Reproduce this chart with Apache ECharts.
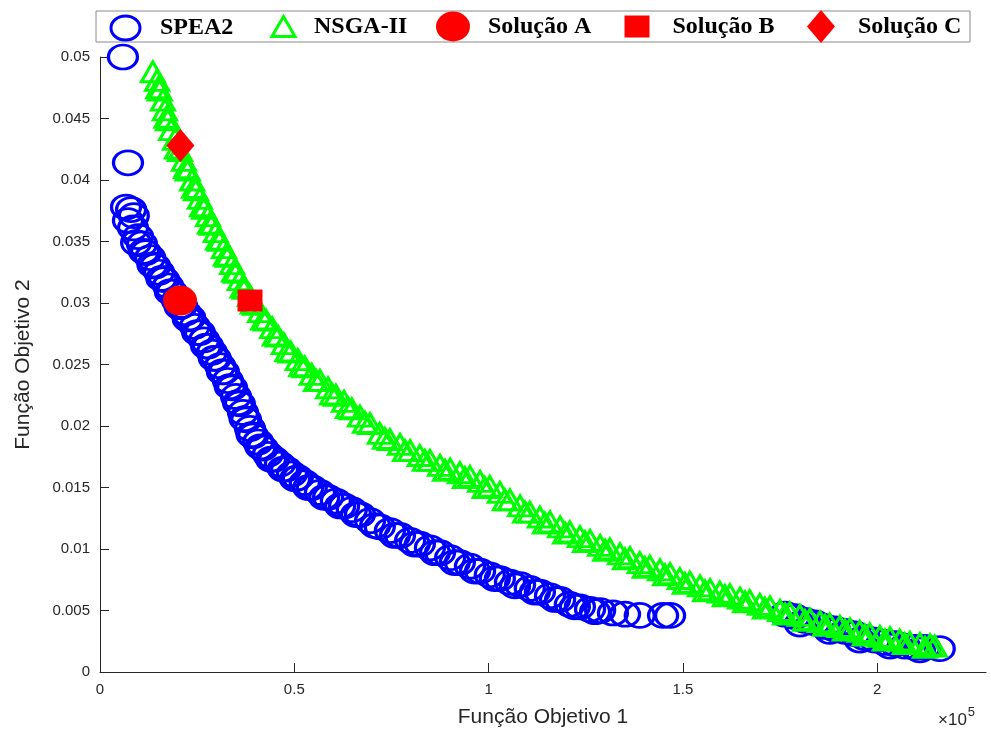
<!DOCTYPE html>
<html>
<head>
<meta charset="utf-8">
<script src="https://cdn.jsdelivr.net/npm/echarts@6/dist/echarts.min.js"></script>
<style>html,body{margin:0;padding:0;background:#fff}#c{width:991px;height:729px}</style>
</head>
<body>
<div id="c"></div>
<script>
// ---- data (x in raw units, displayed as x10^5) ----
var xTicks = [0, 50000, 100000, 150000, 200000];
var spea2 = [
[5900,0.0500],[7200,0.0414],[6700,0.0378],[8000,0.0376],[7200,0.0367],[8700,0.0371],[8500,0.0361],
[9800,0.0354],[10800,0.0348],[11800,0.0341],[12900,0.0337],[14200,0.0330],[15200,0.0325],[16500,0.0319],
[17500,0.0314],[18500,0.0309],[19800,0.0302],[21100,0.0298],[22100,0.0292],[23200,0.0288],[24400,0.0281],
[25700,0.0276],[26800,0.0270],[27800,0.0265],[28800,0.0260],[29800,0.0255],[30900,0.0249],[31900,0.0244],
[32900,0.0237],[34000,0.0231],[35000,0.0224],[36000,0.0218],[36800,0.0211],[37600,0.0205],[38600,0.0198],
[39400,0.0192],[40700,0.0187],[41900,0.0182],[43200,0.0177],[44800,0.0173],[46300,0.0169],[47900,0.0165],
[49400,0.0161],[50900,0.0158],[52700,0.0154],[54500,0.0150],[56600,0.0146],[58700,0.0142],[60700,0.0139],
[62800,0.0135],[64800,0.0132],[66900,0.0128],[69500,0.0123],[72000,0.0118],[74600,0.0115],[77200,0.0111],
[79800,0.0107],[82300,0.0104],[84900,0.0101],[87500,0.0097],[90100,0.0093],[92600,0.0089],[95200,0.0086],
[97800,0.0082],[100300,0.0079],[102900,0.0076],[105500,0.0073],[108100,0.0071],[110600,0.0068],[113200,0.0065],
[115800,0.0062],[118400,0.0059],[120900,0.0055],[123500,0.0053],[126100,0.0051],[128700,0.0050],[132000,0.0048],
[135100,0.0047],[138900,0.0046],[144900,0.0046],[146700,0.0046],
[9300,0.0349],[11300,0.0342],[13500,0.0331],[15800,0.0320],[18000,0.0309],[20500,0.0297],[22600,0.0287],
[25000,0.0276],[27300,0.0265],[29300,0.0255],[31400,0.0244],[33400,0.0232],[35500,0.0219],[37200,0.0206],
[39000,0.0193],[41300,0.0183],[44000,0.0173],[47100,0.0165],[50200,0.0157],[53600,0.0150],[57700,0.0142],
[61800,0.0135],[65900,0.0128],[70800,0.0119],[75900,0.0111],[81000,0.0104],[86200,0.0097],[91300,0.0089],
[96500,0.0082],[101600,0.0076],[106800,0.0070],[111900,0.0065],[117100,0.0059],[122200,0.0053],[127400,0.0049],
[176300,0.0047],[178800,0.0045],[180100,0.0039],[181400,0.0042],[184000,0.0040],[186500,0.0037],[187800,0.0033],
[189100,0.0035],[191700,0.0033],[194300,0.0031],[195500,0.0026],[196800,0.0028],[199400,0.0026],[202000,0.0024],
[203300,0.0021],[204600,0.0023],[207100,0.0021],[209700,0.0020],[211000,0.0018],[212300,0.0020],[216100,0.0019]
];
var nsga2 = [
[13600,0.0488],[14700,0.0481],[15400,0.0473],[16200,0.0465],[16700,0.0457],[17500,0.0449],[18300,0.0441],
[19300,0.0433],[20600,0.0424],[21600,0.0416],[22600,0.0408],[23700,0.0400],[24700,0.0392],[25700,0.0385],
[26800,0.0377],[27800,0.0371],[28800,0.0364],[29800,0.0358],[30900,0.0351],[31900,0.0345],[32900,0.0338],
[34000,0.0332],[35000,0.0325],[36000,0.0319],[37300,0.0312],[38600,0.0306],[39900,0.0299],[41200,0.0293],
[42700,0.0286],[44300,0.0280],[45800,0.0273],[47300,0.0267],[49100,0.0260],[50900,0.0254],[52700,0.0248],
[54500,0.0242],[56600,0.0237],[58700,0.0231],[60700,0.0225],[62800,0.0220],[64800,0.0214],[66900,0.0208],
[69500,0.0202],[72000,0.0194],[74600,0.0189],[77200,0.0185],[79800,0.0180],[82300,0.0176],[84900,0.0172],
[87500,0.0168],[90100,0.0165],[92600,0.0162],[95200,0.0159],[97800,0.0155],[100300,0.0151],[102900,0.0146],
[105500,0.0140],[108100,0.0135],[110600,0.0130],[113200,0.0126],[115800,0.0122],[118400,0.0118],[120900,0.0114],
[123500,0.0110],[126100,0.0107],[128700,0.0103],[131200,0.0100],[133800,0.0096],[136400,0.0093],[138900,0.0089],
[141500,0.0086],[144100,0.0083],[146700,0.0080],[149200,0.0076],[151800,0.0073],[154400,0.0070],[157000,0.0067],
[159500,0.0065],[162100,0.0063],[164700,0.0060],[167200,0.0058],[169800,0.0055],[172400,0.0053],[175000,0.0050],
[177500,0.0048],[180100,0.0046],[182700,0.0043],[185300,0.0041],[187800,0.0039],[190400,0.0037],[193000,0.0035],
[195500,0.0033],[198100,0.0031],[200700,0.0029],[203300,0.0028],[205800,0.0026],[208400,0.0024],[211000,0.0023],
[213600,0.0022],[214800,0.0021],
[15000,0.0475],[17100,0.0451],[19800,0.0426],[22100,0.0410],[24200,0.0394],[26300,0.0379],[28300,0.0365],
[30400,0.0352],[32400,0.0339],[34500,0.0326],[36700,0.0313],[39300,0.0300],[42000,0.0287],[45000,0.0274],
[48200,0.0261],[51800,0.0249],[55600,0.0237],[59700,0.0226],[63800,0.0215],[68200,0.0203],[73300,0.0190],
[78500,0.0180],[83600,0.0172],[88800,0.0164],[93900,0.0158],[99000,0.0150],[104200,0.0140],[109400,0.0130],
[114500,0.0121],[119700,0.0113],[124800,0.0106],[130000,0.0099],[135100,0.0092],[140200,0.0085],[145400,0.0079],
[150500,0.0072],[155700,0.0066],[160800,0.0062],[166000,0.0057],[171100,0.0052],[176300,0.0047],[181400,0.0042],
[186600,0.0038],[191700,0.0034],[196800,0.0030],[202000,0.0026],[207100,0.0023],[212300,0.0020]
];
var solA = [[20600,0.0302]];
var solB = [[38600,0.0302]];
var solC = [[20700,0.0428]];

var names = ['SPEA2','NSGA-II','Solução A','Solução B','Solução C'];

var chart = echarts.init(document.getElementById('c'), null, {renderer:'canvas'});
var axisColor = '#262626';
var legendFont = {fontFamily:'Liberation Serif', fontWeight:'bold', fontSize:24, color:'#000'};
var ellipseIcon = 'path://M2,1A1,1,0,1,1,0,1A1,1,0,1,1,2,1Z';

function mkLegend(name, icon, left, w, h, pad, style){
  return {
    data:[{name:name, icon:icon}],
    left:left, top: 26.5 - Math.max(h, 24)/2, orient:'horizontal',
    padding:0, itemWidth:w, itemHeight:h, selectedMode:false, symbolKeepAspect:false,
    itemStyle: style,
    textStyle: Object.assign({padding:[0,0,0,pad]}, legendFont),
    z: 20
  };
}

var option = {
  animation:false,
  backgroundColor:'#fff',
  textStyle:{fontFamily:'Liberation Sans'},
  grid:{left:100, top:57, right:5, bottom:57, containLabel:false, outerBoundsMode:'none'},
  graphic:[
    {type:'rect', shape:{x:96, y:11, width:874, height:31}, style:{fill:'#fff', stroke:'#8a8a8a', lineWidth:1}, z:10}
  ],
  legend:[
    mkLegend(names[0],ellipseIcon,109.5,29,24,15,{color:'rgba(0,0,0,0)', borderColor:'#0000FF', borderWidth:3, opacity:1}),
    mkLegend(names[1],'triangle',270.5,23,20,14,{color:'rgba(0,0,0,0)', borderColor:'#00FF00', borderWidth:3, opacity:1}),
    mkLegend(names[2],ellipseIcon,436,34,30,13,{color:'#FF0000', borderWidth:0, opacity:1}),
    mkLegend(names[3],'rect',624.5,25,22,18,{color:'#FF0000', borderWidth:0, opacity:1}),
    mkLegend(names[4],'diamond',807,28,33,18,{color:'#FF0000', borderWidth:0, opacity:1})
  ],
  xAxis:{
    type:'value', min:0, max:228000, interval:50000,
    name:'Função Objetivo 1', nameLocation:'middle', nameGap:35,
    nameTextStyle:{fontSize:21, color:axisColor, fontFamily:'Liberation Sans'},
    axisLine:{show:true, onZero:false, lineStyle:{color:axisColor, width:1}},
    axisTick:{show:true, inside:true, length:9, customValues:xTicks, lineStyle:{color:axisColor}},
    axisLabel:{show:true, customValues:xTicks, margin:10, fontSize:15, color:axisColor,
      formatter:function(v){return String(Math.round(v/10000)/10);}},
    splitLine:{show:false}
  },
  yAxis:{
    type:'value', min:0, max:0.05, interval:0.005,
    name:'Função Objetivo 2', nameLocation:'middle', nameGap:66, nameRotate:90,
    nameTextStyle:{fontSize:21, color:axisColor, fontFamily:'Liberation Sans'},
    axisLine:{show:true, onZero:false, lineStyle:{color:axisColor, width:1}},
    axisTick:{show:true, inside:true, length:9, lineStyle:{color:axisColor}},
    axisLabel:{show:true, margin:10, fontSize:15, color:axisColor},
    splitLine:{show:false}
  },
  series:[
    {name:names[0], type:'scatter', data:spea2, symbol:'circle', symbolSize:[29,24], clip:false, z:2,
      itemStyle:{color:'rgba(0,0,0,0)', borderColor:'#0000FF', borderWidth:3, opacity:1}, emphasis:{disabled:true}},
    {name:names[1], type:'scatter', data:nsga2, symbol:'triangle', symbolSize:[23,20], clip:false, z:3,
      itemStyle:{color:'rgba(0,0,0,0)', borderColor:'#00FF00', borderWidth:3, opacity:1}, emphasis:{disabled:true}},
    {name:names[2], type:'scatter', data:solA, symbol:'circle', symbolSize:[34,30], clip:false, z:4,
      itemStyle:{color:'#FF0000', opacity:1}, emphasis:{disabled:true}},
    {name:names[3], type:'scatter', data:solB, symbol:'rect', symbolSize:[25,22], clip:false, z:4,
      itemStyle:{color:'#FF0000', opacity:1}, emphasis:{disabled:true}},
    {name:names[4], type:'scatter', data:solC, symbol:'diamond', symbolSize:[28,33], clip:false, z:4,
      itemStyle:{color:'#FF0000', opacity:1}, emphasis:{disabled:true}}
  ]
};
option.graphic.push({
  type:'text', left:938, top:706, z:5,
  style:{text:'{a|×10}{b|5}', rich:{a:{fontSize:17, fontFamily:'Liberation Sans', fill:axisColor, padding:[6,0,0,0]}, b:{fontSize:13, fontFamily:'Liberation Sans', fill:axisColor, verticalAlign:'top', padding:[0,0,8,1]}}}
});
chart.setOption(option);
</script>
</body>
</html>
